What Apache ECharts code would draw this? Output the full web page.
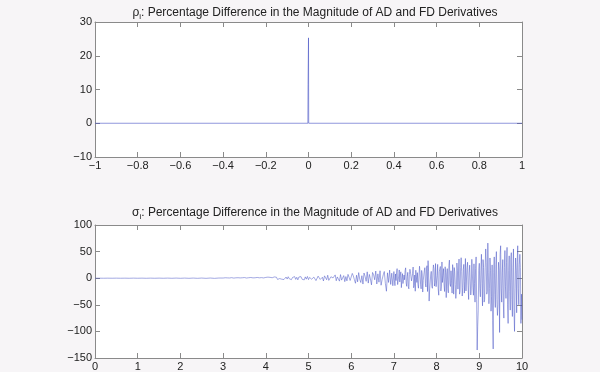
<!DOCTYPE html>
<html><head><meta charset="utf-8">
<script src="https://cdn.jsdelivr.net/npm/echarts@6/dist/echarts.min.js"></script>
<style>html,body{margin:0;padding:0;background:#f7f5f7}#c{width:600px;height:372px}</style>
</head><body><div id="c"></div>
<script>
// ---- Data ----
// Top panel: rho_i
const rhoX = [-1, -0.003, -0.002, -0.0015, 0, 0.001, 1];
const rhoY = [0, 0, 11.5, 11.5, 25.3, 0, 0];
const rhoXTicks = [-1, -0.8, -0.6, -0.4, -0.2, 0, 0.2, 0.4, 0.6, 0.8, 1];
const rhoYTicks = [-10, 0, 10, 20, 30];

// Bottom panel: sigma_i, coarse part 0..3 (step 0.1)
const sigmaLowStart = 0, sigmaLowStep = 0.1;
const sigmaLow = [0,0.05,-0.05,0.08,-0.06,0.1,-0.08,0.07,-0.1,0.12,-0.09,0.1,-0.14,0.12,-0.1,0.15,-0.12,0.18,-0.15,0.2,-0.18,0.22,-0.2,0.25,-0.22,0.28,-0.25,0.3,-0.28,0.32];
// fine part 3..10 (step 0.025)
const sigmaHighStart = 3, sigmaHighStep = 0.025;
const sigma3to4 = [0.3,-0.5,0.8,-0.2,0.6,-0.9,0.4,-0.3,1.0,-0.6,0.2,-0.8,0.7,-0.4,0.9,-1.1,0.5,-0.2,0.8,-0.7,1.2,-0.5,0.3,-1.0,0.9,-0.6,1.3,-0.4,0.6,-1.2,0.8,-0.9,1.4,-0.3,0.7,-1.3,1.1,-0.8,0.5,-1.2];
const sigma4to5 = [1.5,-1.2,2.0,-0.8,1.6,-2.1,0.9,-1.5,2.4,-1.0,1.8,-2.3,1.2,-0.7,2.6,-1.9,1.4,-2.5,0.6,2.2,-1.6,2.8,-1.1,1.9,-2.7,1.3,-0.9,3.0,-2.2,1.7,-3.1,2.3,-1.4,2.9,-2.0,1.1,-3.2,2.5,-1.8,3.3];
const sigma5to6 = [-2.6,1.5,3.5,-1.9,-3.8,2.1,4.2,-4.5,-1.2,3.9,5.0,-2.3,-3.4,1.8,-5.2,4.4,2.0,-2.9,5.6,-4.1,-6.0,2.7,3.8,0.5,-3.2,6.2,-4.8,2.4,1.0,-5.5,6.8,-3.6,-1.5,4.9,-6.5,3.1,-5.0,7.2,1.8,-4.3];
const sigma6to7 = [-7.5,9.0,4.2,-2.8,-9.5,5.6,-6.8,10.5,-2.1,-8.1,4.7,-11.0,9.8,3.5,-5.9,12.0,-9.2,7.1,-1.5,-12.5,10.8,6.4,-3.0,13.5,-10.9,8.2,-7.5,14.0,-13.2,-2.3,6.3,12.6,-9.8,-24.5,10.1,-8.0,15.2,-11.7,9.4,-14.2];
const sigma7to8 = [12.5,-14.0,-4.5,18.0,-9.5,15.5,6.0,-17.8,8.6,-12.4,-3.0,19.5,-15.2,11.0,-20.0,16.8,2.5,-8.2,21.0,-13.6,-24.5,17.5,10.4,-18.8,22.5,-11.2,14.6,-26.0,-6.0,19.8,-16.5,23.5,33.0,-43.0,-21.4,12.8,-19.0,25.0,-14.8,27.5];
const sigma8to9 = [-18.5,26.0,-32.0,14.5,-24.0,30.5,5.0,-12.8,21.5,-36.5,18.0,-27.5,34.0,-15.5,-5.0,25.5,-30.0,12.0,-38.0,28.5,-20.5,36.0,-25.0,38.5,-33.5,16.5,-28.0,37.0,-22.0,30.0,-40.0,24.5,-31.5,35.5,-18.0,27.0,-45.0,40.0,-135.0,-60.0];
const sigma9to10 = [28.0,-35.0,45.0,-52.0,20.0,-40.0,55.0,-30.0,66.0,-48.0,38.0,-62.0,25.0,-133.0,40.0,-55.0,50.0,-70.0,30.0,-102.0,61.0,-45.0,35.0,-75.0,52.0,-38.0,58.0,-85.0,42.0,-60.0,48.0,-72.0,55.0,-100.0,38.0,-65.0,61.0,-50.0,45.0,-85.0,-78.0];
// extra samples halfway between the fine samples for 7..10 (x = 7.0125 + i*0.025)
const sigmaMidStart = 7.0125, sigmaMidStep = 0.025;
const sigmaMid7to8 = [-5,8,10,-12,4,-7,12,-3,-10,6,14,-9,3,-16,7,12,-5,9,-18,6,15,-8,-12,4,10,-20,8,-4,14,-10,18,-25,12,-20,6,-14,10,18,-8,-16];
const sigmaMid8to9 = [5,-20,12,22,-15,-8,18,-25,10,6,-20,24,-10,14,-28,10,20,-12,-22,15,8,-30,20,12,-18,26,-6,-24,20,-14,10,28,-20,8,-32,-10,18,-40,-90,15];
const sigmaMid9to10 = [-20,15,-10,35,-45,20,30,-25,10,-20,15,-35,-80,10,-30,25,-40,-50,15,45,-20,10,-45,20,-15,30,-50,15,-25,35,-40,20,-60,-20,15,30,-20,25,20,-30];
const sigmaXTicks = [0,1,2,3,4,5,6,7,8,9,10];
const sigmaYTicks = [-150,-100,-50,0,50,100];

// ---- Build series data from the arrays ----
const rhoData = rhoX.map((x, i) => [x, rhoY[i]]);
const sigmaData = [];
sigmaLow.forEach((v, i) => sigmaData.push([+(sigmaLowStart + i * sigmaLowStep).toFixed(4), v]));
const sigmaHigh = [].concat(sigma3to4, sigma4to5, sigma5to6, sigma6to7, sigma7to8, sigma8to9, sigma9to10);
sigmaHigh.forEach((v, i) => sigmaData.push([+(sigmaHighStart + i * sigmaHighStep).toFixed(4), v]));
const sigmaMid = [].concat(sigmaMid7to8, sigmaMid8to9, sigmaMid9to10);
sigmaMid.forEach((v, i) => sigmaData.push([+(sigmaMidStart + i * sigmaMidStep).toFixed(4), v]));
sigmaData.sort((a, b) => a[0] - b[0]);

const FONT = '"Liberation Sans", Arial, Helvetica, sans-serif';
const TXT = '#222';
const AX = '#8a8a8a';
const LINE = '#4652c4';
const fmt = v => { const r = Math.round(v * 1000) / 1000; return (r < 0 ? '\u2212' : '') + Math.abs(r); };

function mkAxis(gi, ticks, withLabels, pos) {
  return {
    type: 'value', gridIndex: gi, position: pos,
    min: ticks[0], max: ticks[ticks.length - 1], interval: ticks[1] - ticks[0],
    axisLine: { show: true, onZero: false, lineStyle: { color: AX, width: 1 } },
    axisTick: { show: true, inside: true, length: 5, lineStyle: { color: AX } },
    axisLabel: { show: withLabels, color: TXT, fontFamily: FONT, fontSize: 11, margin: 3, formatter: fmt },
    splitLine: { show: false }
  };
}

const titleRich = {
  t: { fontFamily: FONT, fontSize: 12, fontWeight: 'normal', color: TXT, verticalAlign: 'middle' },
  s: { fontFamily: FONT, fontSize: 8, fontWeight: 'normal', color: TXT, verticalAlign: 'middle', padding: [9, 0, 0, 0] }
};

const chart = echarts.init(document.getElementById('c'), null, { renderer: 'canvas' });
chart.setOption({
  backgroundColor: '#f7f5f7',
  animation: false,
  title: [
    { text: '{t|\u03c1}{s|i}{t|: Percentage Difference in the Magnitude of AD and FD Derivatives}',
      left: 310, top: -1, textAlign: 'center', textStyle: { fontWeight: 'normal', rich: titleRich } },
    { text: '{t|\u03c3}{s|i}{t|: Percentage Difference in the Magnitude of AD and FD Derivatives}',
      left: 310, top: 199, textAlign: 'center', textStyle: { fontWeight: 'normal', rich: titleRich } }
  ],
  grid: [
    { left: 95, right: 78, top: 22, height: 135, show: true, backgroundColor: '#ffffff', borderWidth: 0 },
    { left: 95, right: 78, top: 225, height: 135, show: true, backgroundColor: '#ffffff', borderWidth: 0 }
  ],
  xAxis: [
    mkAxis(0, rhoXTicks, true, 'bottom'),
    mkAxis(0, rhoXTicks, false, 'top'),
    mkAxis(1, sigmaXTicks, true, 'bottom'),
    mkAxis(1, sigmaXTicks, false, 'top')
  ],
  yAxis: [
    mkAxis(0, rhoYTicks, true, 'left'),
    mkAxis(0, rhoYTicks, false, 'right'),
    mkAxis(1, sigmaYTicks, true, 'left'),
    mkAxis(1, sigmaYTicks, false, 'right')
  ],
  series: [
    { type: 'line', xAxisIndex: 0, yAxisIndex: 0, data: rhoData, showSymbol: false,
      lineStyle: { color: LINE, width: 0.6 } },
    { type: 'line', xAxisIndex: 2, yAxisIndex: 2, data: sigmaData, showSymbol: false,
      lineStyle: { color: LINE, width: 0.5 } }
  ]
});
</script></body></html>
